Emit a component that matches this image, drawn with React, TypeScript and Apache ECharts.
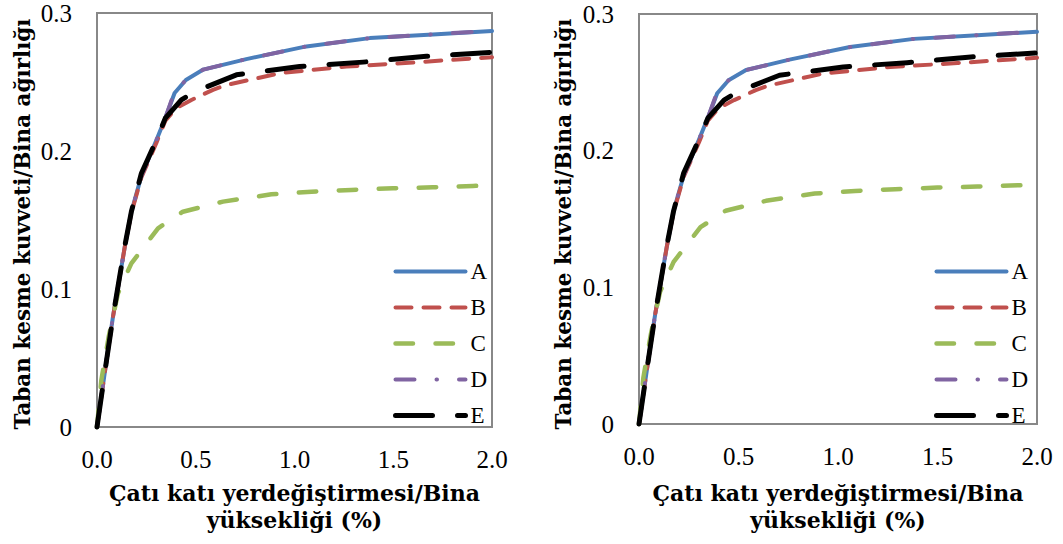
import React, { useEffect, useRef } from "react";
import * as echarts from "echarts";

const seriesNames = ["A", "B", "C", "D", "E"];

const aX = [0, 0.048, 0.081, 0.106, 0.14, 0.174, 0.225, 0.301, 0.346, 0.393, 0.45, 0.538, 0.756, 1.06, 1.381, 1.7, 2.0];
const aY = [0, 0.048, 0.08, 0.101, 0.13, 0.156, 0.182, 0.208, 0.224, 0.242, 0.2515, 0.259, 0.2666, 0.2758, 0.2818, 0.2845, 0.287];

const bX = [0, 0.048, 0.081, 0.106, 0.14, 0.174, 0.225, 0.301, 0.346, 0.4, 0.478, 0.587, 0.647, 0.925, 1.263, 1.6, 2.0];
const bY = [0, 0.048, 0.08, 0.101, 0.13, 0.155, 0.181, 0.206, 0.222, 0.231, 0.237, 0.2443, 0.2475, 0.2564, 0.2612, 0.2641, 0.268];

const cX = [0, 0.022, 0.06, 0.106, 0.174, 0.309, 0.435, 0.638, 0.883, 1.086, 1.288, 1.499, 1.7, 1.904, 2.0];
const cY = [0, 0.034, 0.066, 0.0968, 0.1186, 0.144, 0.156, 0.1633, 0.1686, 0.1705, 0.1718, 0.173, 0.1737, 0.1747, 0.175];

const dX = [0, 0.048, 0.081, 0.106, 0.14, 0.174, 0.225, 0.301, 0.346, 0.39, 0.45, 0.538, 0.756, 1.06, 1.381, 1.7, 1.95];
const dY = [0, 0.048, 0.08, 0.101, 0.13, 0.156, 0.182, 0.208, 0.224, 0.242, 0.2515, 0.259, 0.2666, 0.2758, 0.2818, 0.2845, 0.2868];

const eX = [0, 0.048, 0.081, 0.106, 0.14, 0.174, 0.225, 0.301, 0.346, 0.427, 0.495, 0.706, 1.026, 1.347, 1.668, 2.0];
const eY = [0, 0.048, 0.08, 0.1016, 0.1306, 0.156, 0.1839, 0.208, 0.2238, 0.237, 0.243, 0.2552, 0.2612, 0.2644, 0.2686, 0.2715];

const xTitle = "Çatı katı yerdeğiştirmesi/Bina\nyüksekliği (%)";
const yTitle = "Taban kesme kuvveti/Bina ağırlığı";

const seriesX = [aX, bX, cX, dX, eX];
const seriesY = [aY, bY, cY, dY, eY];
const colors = ["#4A7EBB", "#C0504D", "#9BBB59", "#8064A2", "#000000"];
const widths = [4, 4, 4.5, 4, 5];
const dashes: any[] = ["solid", [16, 12], [17.5, 22.5], [19, 22, 0.5, 22], [37, 25]];

const serifFont = "'Liberation Serif', 'DejaVu Serif', serif";
const xTitleFont = "bold 22px 'DejaVu Serif', serif";
const yTitleFont = "bold 21.5px 'DejaVu Serif', serif";

const grids = [
  { left: 97, top: 13, width: 395, height: 414 },
  { left: 639, top: 14, width: 398, height: 410 },
];
const legendPos = [
  { left: 393, top: 260 },
  { left: 934, top: 260 },
];

export default function App() {
  const ref = useRef<HTMLDivElement>(null);
  useEffect(() => {
    if (!ref.current) return;
    const chart = echarts.init(ref.current, undefined, { renderer: "svg" });
    const series: any[] = [];
    grids.forEach((_, gi) => {
      seriesNames.forEach((name, si) => {
        series.push({
          type: "line",
          name,
          xAxisIndex: gi,
          yAxisIndex: gi,
          data: seriesX[si].map((x, i) => [x, seriesY[si][i]]),
          symbol: "none",
          smooth: false,
          clip: false,
          lineStyle: {
            color: colors[si],
            width: widths[si],
            type: dashes[si],
            cap: "round",
            join: "round",
          },
          itemStyle: { color: colors[si] },
          z: 2 + si,
        });
      });
    });
    const option: any = {
      animation: false,
      backgroundColor: "#ffffff",
      grid: grids.map((g) => ({
        ...g,
        show: true,
        borderColor: "#888888",
        borderWidth: 2,
        backgroundColor: "transparent",
        containLabel: false,
      })),
      xAxis: grids.map((_, gi) => ({
        type: "value",
        gridIndex: gi,
        min: 0,
        max: 2,
        interval: 0.5,
        axisLine: { show: false },
        axisTick: { show: false },
        splitLine: { show: false },
        axisLabel: {
          formatter: (v: number) => v.toFixed(1),
          fontFamily: serifFont,
          fontSize: 25,
          color: "#000",
          margin: 20,
        },
      })),
      yAxis: grids.map((_, gi) => ({
        type: "value",
        gridIndex: gi,
        min: 0,
        max: 0.3,
        interval: 0.1,
        axisLine: { show: false },
        axisTick: { show: false },
        splitLine: { show: false },
        axisLabel: {
          formatter: (v: number) => (Math.abs(v) < 1e-9 ? "0" : v.toFixed(1)),
          fontFamily: serifFont,
          fontSize: 25,
          color: "#000",
          margin: 25,
        },
      })),
      legend: legendPos.map((p) => ({
        orient: "vertical",
        left: p.left,
        top: p.top,
        padding: 0,
        itemWidth: 70,
        itemHeight: 14,
        itemGap: 13,
        selectedMode: false,
        data: seriesNames,
        itemStyle: { opacity: 0 },
        lineStyle: { width: "inherit", type: "inherit", cap: "inherit" },
        textStyle: { fontFamily: serifFont, fontSize: 23, lineHeight: 22, color: "#000" },
      })),
      graphic: [
        ...grids.map((g) => ({
          type: "text",
          x: g.left + g.width / 2,
          y: 506,
          style: {
            text: xTitle,
            font: xTitleFont,
            fill: "#000",
            lineHeight: 27,
            align: "center",
            verticalAlign: "middle",
            textAlign: "center",
            textVerticalAlign: "middle",
          },
        })),
        ...[22, 563].map((x) => ({
          type: "text",
          x,
          y: 224,
          rotation: Math.PI / 2,
          style: {
            text: yTitle,
            font: yTitleFont,
            fill: "#000",
            align: "center",
            verticalAlign: "middle",
            textAlign: "center",
            textVerticalAlign: "middle",
          },
        })),
      ],
      series,
    };
    chart.setOption(option);
    return () => chart.dispose();
  }, []);
  return (
    <div
      ref={ref}
      style={{ position: "fixed", left: 0, top: 0, width: 1063, height: 544, background: "#fff" }}
    />
  );
}
